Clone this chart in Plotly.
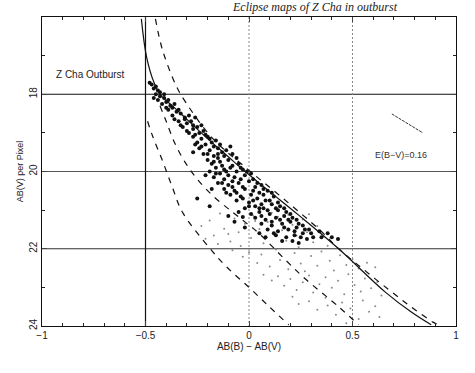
import plotly.graph_objects as go

# ---------------- data ----------------
big_x = [-0.47,-0.46,-0.44,-0.45,-0.43,-0.41,-0.44,-0.40,-0.42,-0.38,-0.36,-0.39,
         -0.35,-0.37,-0.33,-0.31,-0.34,-0.30,-0.28,-0.32,-0.27,-0.25,-0.29,-0.24,-0.22,-0.31,-0.26,
         -0.27,-0.23,-0.20,-0.25,-0.21,-0.18,-0.16,-0.24,-0.19,-0.15,-0.22,-0.17,-0.13,-0.11,-0.20,-0.27,-0.09,
         -0.18,-0.14,-0.10,-0.16,-0.12,-0.08,-0.05,-0.19,-0.14,-0.10,-0.06,-0.03,-0.17,-0.12,-0.08,-0.02,-0.21,0.01,-0.15,
         -0.15,-0.10,-0.05,0.00,-0.12,-0.07,-0.02,0.03,0.06,-0.09,-0.04,0.01,0.05,0.09,-0.06,0.00,0.04,0.08,0.12,-0.18,-0.25,-0.19,
         -0.02,0.03,0.07,0.11,0.15,-0.05,0.01,0.05,0.10,0.14,0.18,0.03,0.08,0.13,0.17,0.21,-0.10,-0.07,-0.03,
         0.06,0.11,0.16,0.20,0.24,0.09,0.14,0.19,0.23,0.27,0.13,0.18,0.22,0.26,0.30,0.34,0.38,0.21,0.28,0.43,0.05,-0.02,
         -0.48,-0.45,-0.43,-0.46,-0.41,-0.39,-0.37,-0.40,-0.34,-0.36,-0.33,-0.29,-0.27,-0.23,-0.30,-0.26,-0.21,-0.19,
         -0.23,-0.26,-0.17,-0.14,-0.20,-0.15,-0.12,-0.08,-0.06,-0.17,-0.13,-0.09,-0.04,-0.01,-0.11,-0.16,-0.07,-0.04,
         0.02,-0.13,-0.08,-0.03,0.04,0.07,-0.11,-0.06,0.02,0.07,0.11,-0.03,0.02,0.06,0.10,0.14,0.00,0.05,0.09,0.13,
         0.17,0.20,0.06,0.11,0.15,0.19,0.23,0.26,0.22,0.17,0.12,0.25,0.29,0.31,0.35,0.40,0.24,0.16,0.08]
big_y = [17.75,17.85,17.90,18.00,18.05,18.10,18.15,18.20,18.25,18.30,18.25,18.40,
         18.45,18.55,18.50,18.60,18.70,18.75,18.70,18.85,18.90,18.85,19.00,19.00,18.95,18.65,18.60,
         19.10,19.15,19.10,19.25,19.30,19.25,19.20,19.40,19.45,19.40,19.55,19.60,19.50,19.45,19.70,19.50,19.35,
         19.80,19.75,19.70,19.90,19.95,19.85,19.80,20.00,20.05,20.10,20.00,19.95,20.15,20.20,20.25,20.10,20.10,20.05,19.65,
         20.30,20.35,20.30,20.25,20.45,20.50,20.45,20.40,20.35,20.60,20.65,20.60,20.55,20.50,20.75,20.80,20.70,20.75,20.65,20.45,20.70,20.90,
         20.95,20.90,20.95,20.85,20.90,21.05,21.10,21.05,21.10,21.00,21.05,21.20,21.25,21.20,21.15,21.20,21.15,21.30,21.18,
         21.35,21.40,21.35,21.30,21.35,21.50,21.55,21.50,21.45,21.50,21.65,21.70,21.65,21.60,21.60,21.55,21.60,21.80,21.75,21.75,21.60,21.45,
         17.70,17.80,17.95,18.10,18.00,18.15,18.35,18.35,18.40,18.65,18.80,18.55,18.80,18.80,18.95,19.05,19.05,19.15,
         19.35,19.30,19.35,19.30,19.55,19.55,19.60,19.55,19.65,19.75,19.85,19.90,19.90,20.00,20.00,20.05,20.15,20.20,
         20.20,20.30,20.40,20.40,20.30,20.45,20.55,20.55,20.50,20.60,20.55,20.70,20.75,20.85,20.75,20.80,20.90,20.95,21.00,20.95,
         20.95,21.10,21.15,21.30,21.25,21.25,21.25,21.40,21.55,21.45,21.60,21.70,21.50,21.70,21.70,21.70,21.85,21.80,21.70]

small_x = [-0.23,-0.19,-0.17,-0.14,-0.12,-0.09,-0.07,-0.05,-0.02,0.01,0.02,0.05,0.07,0.09,0.12,0.14,0.16,0.18,0.21,0.23,0.26,0.28,0.31,0.33,0.36,0.38,-0.21,-0.15,-0.10,-0.04,0.03,0.11,0.19,0.24,0.29,
           -0.08,-0.03,0.00,0.04,0.06,0.10,0.13,0.15,0.19,0.22,0.25,0.27,0.30,0.33,0.35,0.39,0.41,0.44,0.47,0.50,0.53,0.57,0.61,
           0.07,0.11,0.14,0.17,0.20,0.23,0.26,0.29,0.31,0.34,0.37,0.40,0.43,0.46,0.48,0.51,0.54,0.56,0.59,0.62,0.64,0.21,0.37,
           0.24,0.29,0.33,0.38,0.42,0.45,0.49,0.53,0.55,0.58,0.61,0.63,0.47]
small_y = [21.41,21.27,21.66,21.09,21.48,21.81,21.22,21.57,21.35,21.72,21.14,21.49,21.86,21.31,21.63,21.17,21.52,21.79,21.38,21.66,21.24,21.57,21.83,21.41,21.68,21.92,21.74,21.88,21.62,21.93,21.28,21.07,21.12,21.96,21.11,
           22.04,22.21,22.09,22.37,22.15,22.46,22.02,22.29,22.53,22.11,22.38,22.58,22.19,22.44,22.07,22.31,22.56,22.17,22.42,22.27,22.51,22.36,22.48,
           22.67,22.82,22.71,22.96,22.78,23.07,22.87,22.69,23.13,22.92,22.74,23.01,22.83,23.18,22.66,22.94,23.11,22.77,23.02,22.86,23.21,23.24,23.27,
           23.43,23.36,23.58,23.47,23.71,23.39,23.55,23.82,23.34,23.63,23.49,23.77,23.93]

solid_x = [-0.52,-0.495,-0.457,-0.423,-0.37,-0.30,-0.20,-0.10,-0.03,0.10,0.24,0.433,0.66,0.784,0.88]
solid_y = [16.05,17.03,17.72,18.05,18.30,18.65,19.15,19.62,19.95,20.52,21.13,22.00,23.13,23.64,23.97]

dash1_x = [-0.452,-0.418,-0.351,-0.303,-0.178,0.0,0.159,0.351,0.433,0.543,0.673,0.784,0.889,0.923]
dash1_y = [16.05,16.85,17.79,18.23,19.13,19.97,20.67,21.56,22.00,22.49,23.05,23.51,23.90,23.99]

dashA_x = [-0.49,-0.466,-0.418,-0.37,-0.322,-0.192,-0.11,0.0,0.096,0.192]
dashA_y = [18.70,19.08,19.72,20.41,21.05,21.97,22.46,23.00,23.49,23.97]

dashB_x = [-0.43,-0.40,-0.36,-0.31,-0.25,-0.17,-0.08,-0.014,0.048,0.178,0.274,0.433,0.529]
dashB_y = [18.30,18.70,19.25,19.75,20.20,20.65,21.05,21.33,21.60,22.30,22.79,23.50,23.97]

redden_x = [0.69, 0.84]
redden_y = [18.51, 19.00]

xtick_vals = [-1, -0.5, 0, 0.5, 1]
xtick_text = ["\u22121", "\u22120.5", "0", "0.5", "1"]
ytick_vals = [18, 20, 22, 24]
ytick_text = ["18", "20", "22", "24"]

FONT = "Liberation Sans"

fig = go.Figure()

# grid lines
for yv, col, w in [(18, "#111", 1.2), (20, "#555", 1), (22, "#333", 1)]:
    fig.add_shape(type="line", xref="x", yref="y", x0=-1, x1=1, y0=yv, y1=yv,
                  line=dict(color=col, width=w), layer="below")
fig.add_shape(type="line", xref="x", yref="y", x0=-0.5, x1=-0.5, y0=16, y1=24,
              line=dict(color="#111", width=1.2), layer="below")
for xv in [0, 0.5]:
    fig.add_shape(type="line", xref="x", yref="y", x0=xv, x1=xv, y0=16, y1=24,
                  line=dict(color="#888", width=1, dash="2px,2px"), layer="below")

fig.add_trace(go.Scatter(x=small_x, y=small_y, mode="markers",
                         marker=dict(size=2, color="#8a8a8a", line=dict(width=0)), showlegend=False))
fig.add_trace(go.Scatter(x=big_x, y=big_y, mode="markers",
                         marker=dict(size=4, color="#111", symbol="circle", line=dict(width=0)), showlegend=False))

fig.add_trace(go.Scatter(x=solid_x, y=solid_y, mode="lines", line=dict(color="#111", width=1.2, shape="spline"), showlegend=False))
for xs, ys in [(dash1_x, dash1_y), (dashA_x, dashA_y), (dashB_x, dashB_y)]:
    fig.add_trace(go.Scatter(x=xs, y=ys, mode="lines",
                             line=dict(color="#111", width=1.2, dash="6px,6px", shape="spline"), showlegend=False))
fig.add_trace(go.Scatter(x=redden_x, y=redden_y, mode="lines",
                         line=dict(color="#333", width=1, dash="3px,1px"), showlegend=False))

fig.add_annotation(x=-0.94, y=17.49, xref="x", yref="y", text="Z Cha Outburst", showarrow=False,
                   xanchor="left", font=dict(family=FONT, size=10, color="#222"))
fig.add_annotation(x=0.60, y=19.56, xref="x", yref="y", text="E(B\u2212V)=0.16", showarrow=False,
                   xanchor="left", font=dict(family=FONT, size=9, color="#333"))
fig.add_annotation(x=0.66, y=1.0, xref="paper", yref="paper", yanchor="middle", yshift=10,
                   text="<i>Eclipse maps of Z Cha in outburst</i>", showarrow=False,
                   font=dict(family="Liberation Serif", size=12, color="#222"))

fig.update_xaxes(range=[-1, 1], tickvals=xtick_vals, ticktext=xtick_text, ticks="inside", ticklen=5,
                 minor=dict(dtick=0.1, ticks="inside", ticklen=3, tickcolor="#222"),
                 showgrid=False, zeroline=False, showline=True, linecolor="#111", linewidth=1.2, mirror="ticks",
                 tickfont=dict(family=FONT, size=10, color="#222"),
                 title=dict(text="AB(B) \u2212 AB(V)", font=dict(family=FONT, size=10, color="#222"), standoff=2))
fig.update_yaxes(range=[24, 16], tickvals=ytick_vals, ticktext=ytick_text, ticks="inside", ticklen=5,
                 minor=dict(dtick=1, ticks="inside", ticklen=3, tickcolor="#222"), tickangle=-90,
                 showgrid=False, zeroline=False, showline=True, linecolor="#111", linewidth=1.2, mirror="ticks",
                 tickfont=dict(family=FONT, size=10, color="#222"),
                 title=dict(text="AB(V) per Pixel", font=dict(family=FONT, size=9, color="#222"), standoff=2))

fig.update_layout(width=475, height=373, margin=dict(l=42, r=19, t=17, b=47),
                  plot_bgcolor="white", paper_bgcolor="white")
# remove the default 8px page margin so the figure fills the window exactly
fig.write_html("out.html", config={"displayModeBar": False},
               post_script="document.body.style.margin='0';document.body.style.overflow='hidden';")
